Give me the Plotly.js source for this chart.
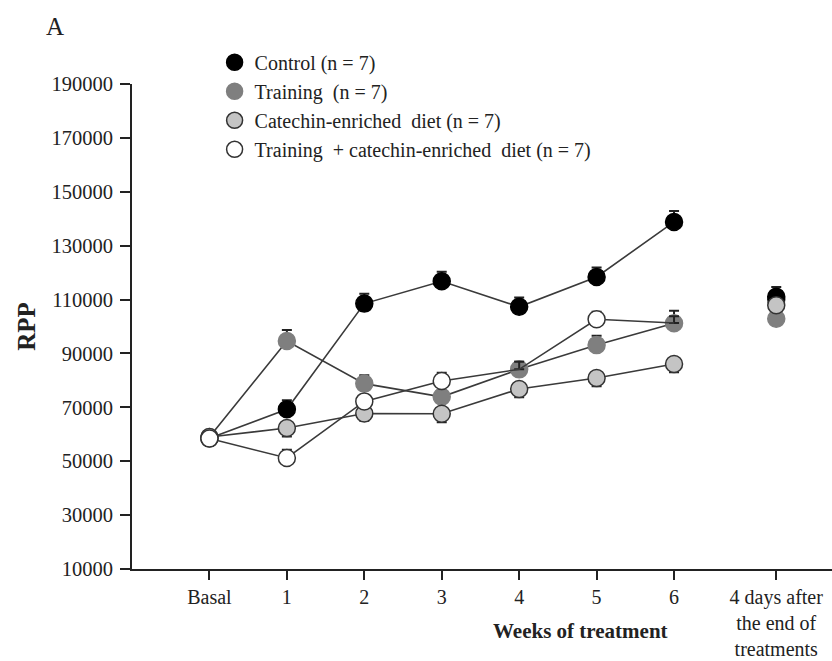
<!DOCTYPE html>
<html>
<head>
<meta charset="utf-8">
<script src="https://cdn.plot.ly/plotly-3.0.1.min.js"></script>
<style>
  html, body { margin: 0; padding: 0; background: #fff; }
  #chart { width: 832px; height: 661px; }
</style>
</head>
<body>
<div id="chart"></div>
<script>
// Time points (x in axis units) and their labels
const weekPoints = [0, 1, 2, 3, 4, 5, 6];
const afterPoint = [7.32];
const tickLabels = ["Basal", "1", "2", "3", "4", "5", "6", "4 days after<br>the end of<br>treatments"];

// Series names
const seriesNames = [
  "Control (n = 7)",
  "Training  (n = 7)",
  "Catechin-enriched  diet (n = 7)",
  "Training  + catechin-enriched  diet (n = 7)"
];

// RPP means, basal to week 6
const controlRPP   = [58500, 69300, 108500, 116800, 107300, 118400, 138800];
const trainingRPP  = [59000, 94600, 78800, 73900, 84100, 93100, 101200];
const catechinRPP  = [59000, 62300, 67700, 67600, 76800, 80900, 86100];
const trainCatRPP  = [58400, 51200, 72200, 79800, 84100, 102700, 101300];

// RPP means, 4 days after the end of treatments
const controlAfter  = [111000];
const trainingAfter = [102900];
const catechinAfter = [107900];
const trainCatAfter = [110000];

// Error (SEM) values, basal to week 6
const controlErr   = [1500, 3300, 3700, 3500, 3500, 3500, 4100];
const trainingErr  = [1500, 4100, 3100, 2500, 2800, 3500, 4600];
const catechinErr  = [1500, 3100, 2700, 3100, 3100, 3100, 3100];
const trainCatErr  = [1500, 3100, 2500, 3000, 2800, 2800, 2500];

// Error (SEM) values, after treatments
const controlAfterErr  = [3700];
const trainingAfterErr = [1500];
const catechinAfterErr = [1500];
const trainCatAfterErr = [1500];

const serif = "Liberation Serif";
const lineCol = "#3a3a3a";

function errBars(y, err, down) {
  const eb = { type: "data", symmetric: false, color: "#222", thickness: 2, width: 5 };
  if (down) { eb.array = y.map(() => 0); eb.arrayminus = err; }
  else { eb.array = err; eb.arrayminus = y.map(() => 0); }
  return eb;
}

function weeklyTrace(name, y, err, st, opac) {
  return {
    type: "scatter", mode: "lines+markers", name: name, showlegend: false,
    x: weekPoints, y: y,
    line: { color: lineCol, width: 1.6 },
    marker: { size: 17, color: st.fill, opacity: opac || 1, line: { color: st.outline, width: 1.5 } },
    error_y: errBars(y, err, st.down),
    cliponaxis: false
  };
}

function afterTrace(name, y, err, st, rank) {
  return {
    type: "scatter", mode: "markers", name: name, showlegend: true, legendrank: rank,
    x: afterPoint, y: y,
    marker: { size: 17, color: st.fill, line: { color: st.outline, width: 1.5 } },
    error_y: errBars(y, err, st.down),
    cliponaxis: false
  };
}

const styles = [
  { fill: "#000000", outline: "#000000", down: false },
  { fill: "#7f7f7f", outline: "#7f7f7f", down: false },
  { fill: "#c4c4c4", outline: "#333333", down: true },
  { fill: "#ffffff", outline: "#333333", down: false }
];

const traces = [
  weeklyTrace(seriesNames[0], controlRPP, controlErr, styles[0]),
  weeklyTrace(seriesNames[1], trainingRPP, trainingErr, styles[1]),
  weeklyTrace(seriesNames[2], catechinRPP, catechinErr, styles[2]),
  weeklyTrace(seriesNames[3], trainCatRPP, trainCatErr, styles[3], [1, 1, 1, 1, 0, 1, 0]),
  afterTrace(seriesNames[3], trainCatAfter, trainCatAfterErr, styles[3], 4),
  afterTrace(seriesNames[0], controlAfter, controlAfterErr, styles[0], 1),
  afterTrace(seriesNames[1], trainingAfter, trainingAfterErr, styles[1], 2),
  afterTrace(seriesNames[2], catechinAfter, catechinAfterErr, styles[2], 3)
];

const layout = {
  width: 832, height: 661,
  margin: { l: 132, r: 0, t: 84, b: 92 },
  paper_bgcolor: "#ffffff", plot_bgcolor: "#ffffff",
  font: { family: serif, size: 21, color: "#222" },
  showlegend: true,
  legend: {
    x: 0.118, xanchor: "left", y: 1.085, yanchor: "top",
    traceorder: "normal",
    font: { family: serif, size: 20, color: "#222" },
    bgcolor: "rgba(0,0,0,0)", borderwidth: 0, tracegroupgap: 0
  },
  xaxis: {
    range: [-1, 8.04],
    tickmode: "array", tickvals: weekPoints.concat(afterPoint), ticktext: tickLabels,
    showline: true, linecolor: "#222", linewidth: 2,
    ticks: "outside", ticklen: 9, tickwidth: 2, tickcolor: "#222",
    showgrid: false, zeroline: false,
    tickfont: { family: serif, size: 20, color: "#222" }
  },
  yaxis: {
    range: [10000, 190000],
    tick0: 10000, dtick: 20000, tickformat: "d",
    showline: true, linecolor: "#222", linewidth: 2,
    ticks: "outside", ticklen: 10, tickwidth: 2, tickcolor: "#222",
    ticklabelstandoff: 3,
    showgrid: false, zeroline: false,
    tickfont: { family: serif, size: 20.5, color: "#222" },
    title: { text: "<b>RPP</b>", font: { family: serif, size: 25, color: "#222" }, standoff: 9 }
  },
  annotations: [
    { text: "<b>Weeks of treatment</b>", xref: "paper", yref: "paper",
      x: 0.64, y: -0.127, xanchor: "center", yanchor: "middle", showarrow: false,
      font: { family: serif, size: 21, color: "#222" } },
    { text: "A", xref: "paper", yref: "paper",
      x: -0.11, y: 1.119, xanchor: "center", yanchor: "middle", showarrow: false,
      font: { family: serif, size: 25, color: "#222" } }
  ]
};

Plotly.newPlot("chart", traces, layout, { displayModeBar: false, staticPlot: true });
</script>
</body>
</html>
